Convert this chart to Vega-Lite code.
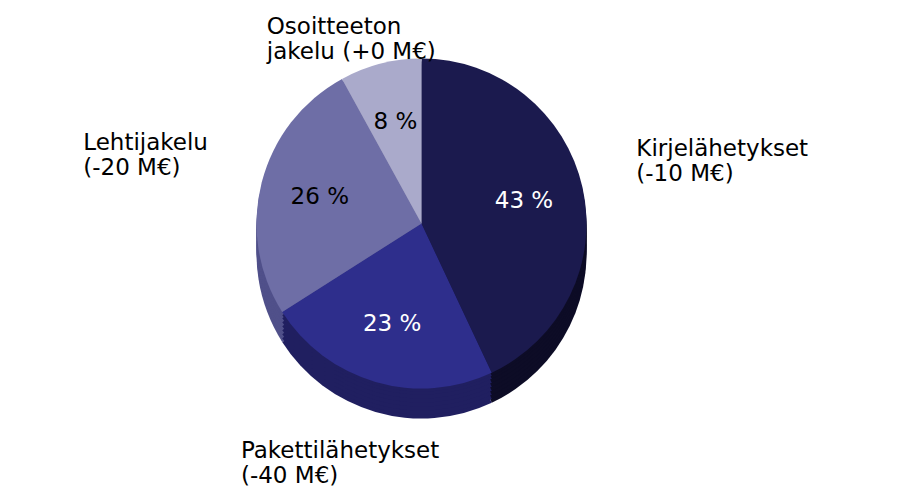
{
  "$schema": "https://vega.github.io/schema/vega-lite/v6.json",
  "width": 903,
  "height": 487,
  "autosize": {"type": "fit", "contains": "padding"},
  "padding": {"left": 0, "right": 60, "top": 0, "bottom": 22},
  "background": "white",
  "config": {"view": {"stroke": null}, "text": {"font": "DejaVu Sans"}},
  "data": {
    "values": [
      {"category": "Kirjelähetykset", "share": 43, "order": 1, "pct": "43 %", "label": "Kirjelähetykset\n(-10 M€)"},
      {"category": "Pakettilähetykset", "share": 23, "order": 2, "pct": "23 %", "label": "Pakettilähetykset\n(-40 M€)"},
      {"category": "Lehtijakelu", "share": 26, "order": 3, "pct": "26 %", "label": "Lehtijakelu\n(-20 M€)"},
      {"category": "Osoitteeton jakelu", "share": 8, "order": 4, "pct": "8 %", "label": "Osoitteeton\njakelu (+0 M€)"}
    ]
  },
  "encoding": {
    "theta": {"field": "share", "type": "quantitative", "stack": true},
    "order": {"field": "order", "type": "quantitative"}
  },
  "layer": [
    {"mark": {"type": "arc", "radius": 165, "yOffset": 30}, "encoding": {"color": {"field": "category", "type": "nominal", "legend": null, "scale": {"domain": ["Kirjelähetykset", "Pakettilähetykset", "Lehtijakelu", "Osoitteeton jakelu"], "range": ["#0d0c26", "#201f60", "#50508a", "#8282a8"]}}}},
    {"mark": {"type": "arc", "radius": 165, "yOffset": 26}, "encoding": {"color": {"field": "category", "type": "nominal", "legend": null, "scale": {"domain": ["Kirjelähetykset", "Pakettilähetykset", "Lehtijakelu", "Osoitteeton jakelu"], "range": ["#0d0c26", "#201f60", "#50508a", "#8282a8"]}}}},
    {"mark": {"type": "arc", "radius": 165, "yOffset": 22}, "encoding": {"color": {"field": "category", "type": "nominal", "legend": null, "scale": {"domain": ["Kirjelähetykset", "Pakettilähetykset", "Lehtijakelu", "Osoitteeton jakelu"], "range": ["#0d0c26", "#201f60", "#50508a", "#8282a8"]}}}},
    {"mark": {"type": "arc", "radius": 165, "yOffset": 18}, "encoding": {"color": {"field": "category", "type": "nominal", "legend": null, "scale": {"domain": ["Kirjelähetykset", "Pakettilähetykset", "Lehtijakelu", "Osoitteeton jakelu"], "range": ["#0d0c26", "#201f60", "#50508a", "#8282a8"]}}}},
    {"mark": {"type": "arc", "radius": 165, "yOffset": 14}, "encoding": {"color": {"field": "category", "type": "nominal", "legend": null, "scale": {"domain": ["Kirjelähetykset", "Pakettilähetykset", "Lehtijakelu", "Osoitteeton jakelu"], "range": ["#0d0c26", "#201f60", "#50508a", "#8282a8"]}}}},
    {"mark": {"type": "arc", "radius": 165, "yOffset": 10}, "encoding": {"color": {"field": "category", "type": "nominal", "legend": null, "scale": {"domain": ["Kirjelähetykset", "Pakettilähetykset", "Lehtijakelu", "Osoitteeton jakelu"], "range": ["#0d0c26", "#201f60", "#50508a", "#8282a8"]}}}},
    {"mark": {"type": "arc", "radius": 165, "yOffset": 6}, "encoding": {"color": {"field": "category", "type": "nominal", "legend": null, "scale": {"domain": ["Kirjelähetykset", "Pakettilähetykset", "Lehtijakelu", "Osoitteeton jakelu"], "range": ["#0d0c26", "#201f60", "#50508a", "#8282a8"]}}}},
    {"mark": {"type": "arc", "radius": 165, "yOffset": 3}, "encoding": {"color": {"field": "category", "type": "nominal", "legend": null, "scale": {"domain": ["Kirjelähetykset", "Pakettilähetykset", "Lehtijakelu", "Osoitteeton jakelu"], "range": ["#0d0c26", "#201f60", "#50508a", "#8282a8"]}}}},
    {
      "mark": {"type": "arc", "radius": 165},
      "encoding": {
        "fill": {"field": "category", "type": "nominal", "legend": null,
          "scale": {"domain": ["Kirjelähetykset", "Pakettilähetykset", "Lehtijakelu", "Osoitteeton jakelu"],
                    "range": ["#1b1a4e", "#2e2e8c", "#6e6ea6", "#aaaacb"]}}
      }
    },
    {
      "mark": {"type": "text", "radius": 105, "fontSize": 23},
      "encoding": {
        "text": {"field": "pct", "type": "nominal"},
        "color": {"condition": {"test": "datum.category == 'Kirjelähetykset' || datum.category == 'Pakettilähetykset'", "value": "white"}, "value": "black"}
      }
    },
    {
      "mark": {"type": "text", "radius": 215, "fontSize": 23, "align": "left", "lineBreak": "\n", "color": "black", "dx": 5, "dy": -28},
      "encoding": {
        "text": {"condition": {"test": "datum.category == 'Kirjelähetykset'", "field": "label"}, "value": ""}
      }
    },
    {
      "mark": {"type": "text", "radius": 215, "fontSize": 23, "align": "left", "lineBreak": "\n", "color": "black", "dx": -130, "dy": -27},
      "encoding": {
        "text": {"condition": {"test": "datum.category == 'Lehtijakelu'", "field": "label"}, "value": ""}
      }
    },
    {
      "mark": {"type": "text", "radius": 200, "fontSize": 23, "align": "left", "lineBreak": "\n", "color": "black", "dx": -105, "dy": -3},
      "encoding": {
        "text": {"condition": {"test": "datum.category == 'Osoitteeton jakelu'", "field": "label"}, "value": ""}
      }
    },
    {
      "mark": {"type": "text", "radius": 235, "fontSize": 23, "align": "left", "lineBreak": "\n", "color": "black", "dx": -115, "dy": 2},
      "encoding": {
        "text": {"condition": {"test": "datum.category == 'Pakettilähetykset'", "field": "label"}, "value": ""}
      }
    }
  ],
  "resolve": {"scale": {"color": "independent", "fill": "independent"}}
}
